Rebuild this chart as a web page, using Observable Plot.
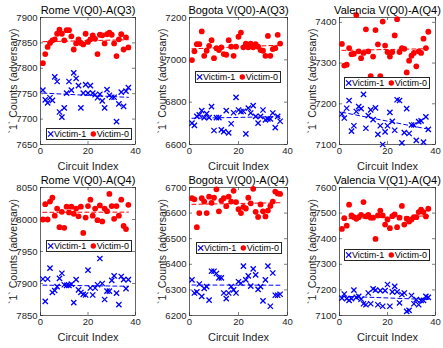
<!DOCTYPE html>
<html>
<head>
<meta charset="utf-8">
<script src="https://cdn.jsdelivr.net/npm/d3@7"></script>
<script src="https://cdn.jsdelivr.net/npm/@observablehq/plot@0.6"></script>
<style>
  html, body { margin: 0; padding: 0; background: #fff; }
  #fig { position: relative; width: 443px; height: 348px; overflow: hidden; font-family: "Liberation Sans", Arial, Helvetica, sans-serif; }
  .panel { position: absolute; }
  .legend { position: absolute; box-sizing: border-box; width: 86px; height: 12px; border: 1px solid #262626; background: #fff; }
  .legend svg { position: absolute; left: -1px; top: -1px; }
</style>
</head>
<body>
<div id="fig"></div>
<script>
// ---------------- data ----------------
const circuitIndex = [1,2,3,4,5,6,7,8,9,10,11,12,13,14,15,16,17,18,19,20,21,22,23,24,25,26,27,28,29,30,31,32,33,34,35,36,37];

const panelTitles = ["Rome V(Q0)-A(Q3)", "Bogota V(Q0)-A(Q3)", "Valencia V(Q0)-A(Q4)",
                     "Rome V(Q0)-A(Q4)", "Bogota V(Q0)-A(Q4)", "Valencia V(Q1)-A(Q4)"];
const legendLabels = ["Victim-1", "Victim-0"];
const yAxisLabel = "`1` Counts (adversary)";
const xAxisLabel = "Circuit Index";
const xTickValues = [0, 20, 40];

const romeQ3_victim0 = [7810,7828,7842,7850,7855,7857,7868,7876,7868,7855,7875,7875,7863,7837,7849,7857,7850,7847,7868,7852,7857,7865,7858,7828,7866,7865,7849,7867,7870,7866,7849,7824,7857,7867,7837,7861,7841];
const romeQ3_victim1 = [7757,7738,7732,7742,7737,7783,7774,7714,7704,7722,7751,7774,7757,7791,7780,7766,7722,7751,7768,7751,7766,7751,7748,7742,7749,7736,7722,7758,7747,7743,7743,7695,7730,7753,7725,7755,7762];

const bogotaQ3_victim0 = [6999,7040,7074,7074,7134,7019,7043,7066,7093,7008,7055,7046,7059,7027,7024,7093,7062,7019,7062,7109,7129,7059,7077,7059,7077,7059,7074,7062,7046,7043,7019,7113,7019,7051,7055,7118,7077];
const bogotaQ3_victim1 = [6701,6690,6733,6740,6760,6727,6746,6727,6779,6666,6727,6727,6669,6661,6760,6655,6698,6750,6823,6763,6755,6757,6650,6772,6749,6784,6733,6701,6733,6763,6716,6721,6721,6749,6680,6733,6710];

const valenciaQ0Q4_victim0 = [7347,7294,7296,7337,7322,7323,7418,7329,7312,7325,7383,7329,7268,7316,7381,7346,7268,7402,7343,7327,7316,7327,7368,7408,7327,7337,7335,7277,7306,7318,7325,7292,7329,7325,7360,7337,7377];
const valenciaQ0Q4_victim1 = [7175,7165,7189,7208,7133,7146,7181,7193,7188,7223,7140,7171,7185,7161,7190,7125,7146,7100,7131,7146,7179,7157,7135,7210,7208,7104,7129,7188,7127,7148,7148,7110,7156,7158,7106,7168,7137];

const romeQ4_victim0 = [8000,8024,8000,8028,8034,8006,8017,7988,8012,7987,8020,8011,8020,8009,8017,8005,8020,7979,8003,8021,8031,8006,8017,7999,8022,7997,8017,8013,8040,8021,8001,8021,8006,8031,7990,7985,8023];
const romeQ4_victim1 = [7907,7872,7907,7924,7886,7889,7895,7908,7916,7898,7897,7897,7899,7870,7906,7890,7886,7883,7882,7921,7893,7882,7893,7898,7939,7900,7875,7888,7888,7905,7912,7885,7867,7911,7906,7892,7906];

const bogotaQ4_victim0 = [6658,6654,6545,6600,6658,6645,6600,6664,6640,6660,6693,6607,6649,6658,6627,6664,6645,6687,6643,6615,6600,6624,6618,6660,6638,6695,6605,6585,6634,6607,6587,6610,6628,6645,6684,6677,6675];
const bogotaQ4_victim1 = [6339,6288,6292,6323,6275,6306,6313,6260,6373,6373,6364,6347,6347,6288,6266,6288,6313,6300,6288,6332,6326,6393,6339,6355,6315,6382,6359,6302,6313,6257,6339,6393,6236,6366,6279,6279,6283];

const valenciaQ1Q4_victim0 = [7438,7480,7451,7533,7491,7484,7478,7484,7493,7543,7487,7493,7482,7482,7399,7491,7510,7491,7455,7475,7441,7488,7495,7445,7482,7528,7455,7478,7467,7475,7484,7484,7504,7513,7504,7487,7517];
const valenciaQ1Q4_victim1 = [7168,7184,7166,7159,7166,7199,7171,7175,7164,7146,7142,7188,7146,7204,7199,7142,7197,7136,7197,7221,7136,7192,7214,7192,7149,7182,7188,7116,7120,7178,7146,7162,7142,7159,7159,7175,7171];

const yDomains = [[7650,7900],[6600,7200],[7100,7412],[7850,8050],[6200,6700],[7100,7600]];
const yTickValues = [
  [7650,7700,7750,7800,7850,7900],
  [6600,6800,7000,7200],
  [7100,7200,7300,7400],
  [7850,7900,7950,8000,8050],
  [6200,6300,6400,6500,6600,6700],
  [7100,7200,7300,7400,7500,7600]
];

const victim0Series = [romeQ3_victim0, bogotaQ3_victim0, valenciaQ0Q4_victim0, romeQ4_victim0, bogotaQ4_victim0, valenciaQ1Q4_victim0];
const victim1Series = [romeQ3_victim1, bogotaQ3_victim1, valenciaQ0Q4_victim1, romeQ4_victim1, bogotaQ4_victim1, valenciaQ1Q4_victim1];

// ---------------- layout ----------------
const FONT = '"Liberation Sans", Arial, Helvetica, sans-serif';
const INK = "#262626";
const colL = [40, 189, 339], colW = [95, 98, 96];
const rowT = [17, 187], rowH = [127, 128];
const legendPos = [[46,127.5],[195,71],[344,77],[46,239.5],[196,242],[344,248.5]];
const mL = 40, mR = 6, mT = 17, mB = 30;
const fmt = d3.format("d");

const fig = document.getElementById("fig");

for (let k = 0; k < 6; k++) {
  const r = Math.floor(k / 3), c = k % 3;
  const W = colW[c], H = rowH[r];
  const d0 = circuitIndex.map((x, i) => ({x, y: victim0Series[k][i]}));
  const d1 = circuitIndex.map((x, i) => ({x, y: victim1Series[k][i]}));
  const yt = yTickValues[k];

  const chart = Plot.plot({
    width: W + mL + mR,
    height: H + mT + mB,
    marginLeft: mL, marginRight: mR, marginTop: mT, marginBottom: mB,
    style: {fontFamily: FONT, fontSize: "9.5px", color: INK, background: "transparent", overflow: "visible"},
    x: {domain: [0, 40]},
    y: {domain: yDomains[k]},
    marks: [
      Plot.axisX({ticks: xTickValues, tickFormat: fmt, tickSize: 0, tickPadding: 3, label: null, fill: INK}),
      Plot.axisY({ticks: yt, tickFormat: fmt, tickSize: 0, tickPadding: 3, label: null, fill: INK}),
      Plot.tickY(yt, {y: d => d, insetRight: W - 3, stroke: INK, strokeWidth: 0.6}),
      Plot.tickY(yt, {y: d => d, insetLeft: W - 3, stroke: INK, strokeWidth: 0.6}),
      Plot.tickX(xTickValues, {x: d => d, insetTop: H - 3, stroke: INK, strokeWidth: 0.6}),
      Plot.tickX(xTickValues, {x: d => d, insetBottom: H - 3, stroke: INK, strokeWidth: 0.6}),
      Plot.frame({stroke: INK, strokeWidth: 0.7}),
      Plot.linearRegressionY(d1, {x: "x", y: "y", stroke: "blue", strokeWidth: 1, strokeDasharray: "4,3", ci: 0}),
      Plot.linearRegressionY(d0, {x: "x", y: "y", stroke: "red", strokeWidth: 1, strokeDasharray: "4,3", ci: 0}),
      Plot.dot(d1, {x: "x", y: "y", symbol: "times", r: 2.5, stroke: "blue", strokeWidth: 1.3}),
      Plot.dot(d0, {x: "x", y: "y", r: 2.9, fill: "red", stroke: "none"}),
      Plot.text([panelTitles[k]], {text: d => d, frameAnchor: "top", dy: -7.5, lineAnchor: "middle", fontSize: 11, fill: "#000"}),
      Plot.text([yAxisLabel], {text: d => d, frameAnchor: "left", rotate: -90, dx: -27, lineAnchor: "middle", textAnchor: "middle", fontSize: 10.5, fill: INK}),
      Plot.text([xAxisLabel], {text: d => d, frameAnchor: "bottom", dy: 22, lineAnchor: "middle", fontSize: 11, fill: INK})
    ]
  });
  chart.classList.add("panel");
  chart.style.left = (colL[c] - mL) + "px";
  chart.style.top = (rowT[r] - mT) + "px";
  fig.appendChild(chart);

  // legend box
  const lg = document.createElement("div");
  lg.className = "legend";
  lg.style.left = legendPos[k][0] + "px";
  lg.style.top = legendPos[k][1] + "px";
  const s = d3.create("svg").attr("width", 86).attr("height", 12)
    .style("font-family", FONT).style("font-size", "9px");
  s.append("path").attr("d", d3.symbol(d3.symbolTimes, 19.6)())
    .attr("transform", "translate(4.7,6)").attr("stroke", "blue").attr("stroke-width", 1.3).attr("fill", "none");
  s.append("text").attr("x", 8).attr("y", 6).attr("dy", "0.34em").attr("fill", "#000").text(legendLabels[0]);
  s.append("circle").attr("cx", 47.3).attr("cy", 6).attr("r", 2.7).attr("fill", "red");
  s.append("text").attr("x", 50.7).attr("y", 6).attr("dy", "0.34em").attr("fill", "#000").text(legendLabels[1]);
  lg.appendChild(s.node());
  fig.appendChild(lg);
}
</script>
</body>
</html>
